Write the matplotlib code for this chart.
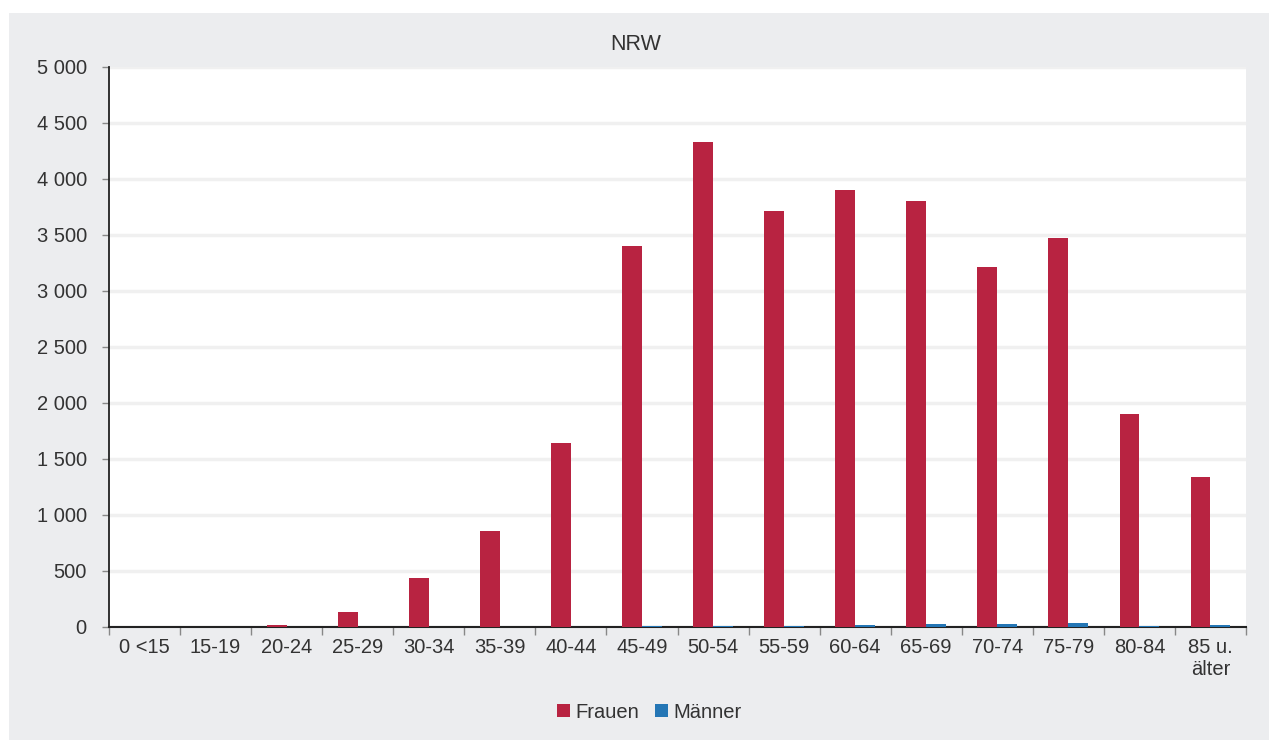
import numpy as np
import matplotlib as mpl
mpl.use('Agg')
import matplotlib.pyplot as plt
import matplotlib.ticker as mticker
from matplotlib.patches import Rectangle

plt.rcParams['font.family'] = ['Liberation Sans', 'DejaVu Sans']

# Altersgruppen und Werte
gruppen = ['0 <15', '15-19', '20-24', '25-29', '30-34', '35-39', '40-44', '45-49',
           '50-54', '55-59', '60-64', '65-69', '70-74', '75-79', '80-84', '85 u.\nälter']
frauen = [0, 0, 20, 130, 435, 855, 1645, 3400, 4330, 3715, 3900, 3805, 3215, 3470, 1900, 1340]
maenner = [0, 0, 0, 0, 0, 0, 0, 9, 12, 9, 18, 24, 24, 40, 12, 15]

ROT = '#B82341'
BLAU = '#2476B5'
GRAU = '#ECEDEF'

fig = plt.figure(figsize=(12.69, 7.40), dpi=100, facecolor='white')
# grauer Hintergrund mit schmalem weißen Rand oben/links
fig.patches.append(Rectangle((9/1269, 0), 1 - 9/1269, 1 - 13/740,
                             transform=fig.transFigure, facecolor=GRAU,
                             edgecolor='none', zorder=-10))

ax = fig.add_axes([109/1269, (740-627)/740, (1246-109)/1269, (627-67)/740])
ax.set_facecolor('white')

x = np.arange(len(gruppen))
b = 0.28
ax.bar(x - b/2, frauen, width=b, color=ROT, label='Frauen', zorder=3)
ax.bar(x + b/2, maenner, width=b, color=BLAU, label='Männer', zorder=3)

ax.set_xlim(-0.5, len(gruppen) - 0.5)
ax.set_ylim(0, 5000)
ax.yaxis.set_major_locator(mticker.MultipleLocator(500))
ax.yaxis.set_major_formatter(mticker.FuncFormatter(
    lambda v, p: f'{int(v):,}'.replace(',', ' ')))
ax.grid(axis='y', color='#F0F0F0', linewidth=2.5, zorder=0)

fs = 14.5
ax.set_xticks(x)
ax.set_xticklabels(gruppen, fontsize=fs, color='#333333', linespacing=1.2)
ax.set_xticks(np.arange(len(gruppen) + 1) - 0.5, minor=True)
ax.tick_params(axis='x', which='major', length=0, pad=8)
ax.tick_params(axis='x', which='minor', length=6, color='#888888', width=1)
ax.tick_params(axis='y', length=5, color='#888888', width=1, labelsize=fs,
               labelcolor='#333333', pad=11)

for s in ['top', 'right']:
    ax.spines[s].set_visible(False)
ax.spines['left'].set_color('#222222')
ax.spines['bottom'].set_color('#222222')
ax.spines['left'].set_linewidth(1.3)
ax.spines['bottom'].set_linewidth(1.5)

fig.text(636/1269, 1 - 45/740, 'NRW', ha='center', va='center', fontsize=15.5, color='#333333')

leg = fig.legend(loc='center', bbox_to_anchor=(649/1269, 1 - 712/740), ncol=2,
                 frameon=False, fontsize=fs, handlelength=0.65, handleheight=0.65,
                 handletextpad=0.25, columnspacing=0.8)
for t in leg.get_texts():
    t.set_color('#333333')

fig.savefig('out.png', dpi=100, facecolor=fig.get_facecolor())
